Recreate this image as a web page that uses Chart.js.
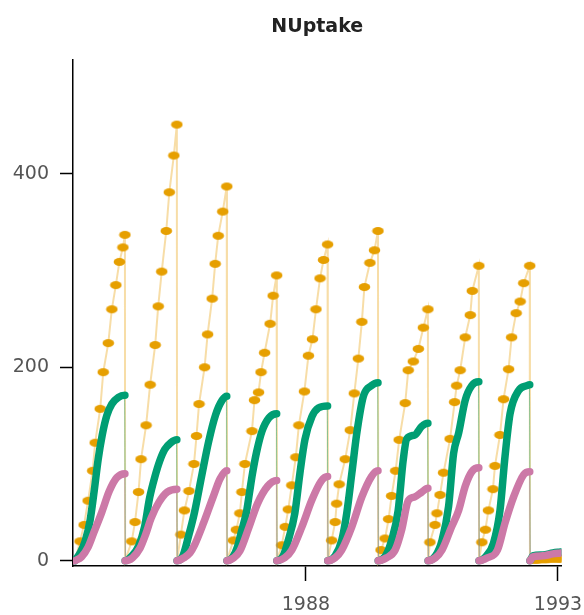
<!DOCTYPE html>
<html>
<head>
<meta charset="utf-8">
<title>NUptake</title>
<script src="https://cdn.jsdelivr.net/npm/chart.js@4.4.1/dist/chart.umd.min.js"></script>
<style>
  html, body { margin: 0; padding: 0; background: #fff; }
  canvas { display: block; }
</style>
</head>
<body>
<canvas id="nUptakeChart" width="584" height="615"></canvas>
<script>
// [decimal year, N uptake], one growing season per line
const orangePoints = [
    [1983.42, 0], [1983.52, 20], [1983.60, 37], [1983.68, 62], [1983.77, 93], [1983.82, 122], [1983.92, 157], [1983.98, 195], [1984.08, 225], [1984.15, 260], [1984.23, 285], [1984.30, 309], [1984.37, 324], [1984.41, 337], [1984.414, 0],
    [1984.545, 20], [1984.61, 40], [1984.68, 71], [1984.73, 105], [1984.83, 140], [1984.91, 182], [1985.01, 223], [1985.07, 263], [1985.14, 299], [1985.23, 341], [1985.29, 381], [1985.38, 419], [1985.44, 451], [1985.444, 0],
    [1985.52, 27], [1985.59, 52], [1985.68, 72], [1985.78, 100], [1985.83, 129], [1985.88, 162], [1985.99, 200], [1986.05, 234], [1986.14, 271], [1986.20, 307], [1986.26, 336], [1986.35, 361], [1986.43, 387], [1986.434, 0],
    [1986.56, 21], [1986.62, 32], [1986.69, 49], [1986.73, 71], [1986.79, 100], [1986.93, 134], [1986.98, 166], [1987.06, 174], [1987.11, 195], [1987.18, 215], [1987.29, 245], [1987.35, 274], [1987.42, 295], [1987.424, 0],
    [1987.52, 16], [1987.59, 35], [1987.65, 53], [1987.72, 78], [1987.80, 107], [1987.86, 140], [1987.97, 175], [1988.05, 212], [1988.13, 229], [1988.20, 260], [1988.28, 292], [1988.35, 311], [1988.43, 327], [1988.434, 0],
    [1988.51, 21], [1988.58, 40], [1988.61, 59], [1988.66, 79], [1988.78, 105], [1988.88, 135], [1988.96, 173], [1989.04, 209], [1989.11, 247], [1989.16, 283], [1989.27, 308], [1989.36, 321], [1989.43, 341], [1989.434, 0],
    [1989.49, 11], [1989.57, 23], [1989.64, 43], [1989.70, 67], [1989.78, 93], [1989.85, 125], [1989.97, 163], [1990.03, 197], [1990.13, 206], [1990.23, 219], [1990.33, 241], [1990.42, 260], [1990.424, 0],
    [1990.46, 19], [1990.56, 37], [1990.60, 49], [1990.66, 68], [1990.73, 91], [1990.86, 126], [1990.95, 164], [1990.99, 181], [1991.06, 197], [1991.16, 231], [1991.26, 254], [1991.30, 279], [1991.43, 305], [1991.434, 0],
    [1991.49, 19], [1991.56, 32], [1991.62, 52], [1991.71, 74], [1991.75, 98], [1991.85, 130], [1991.92, 167], [1992.02, 198], [1992.08, 231], [1992.17, 256], [1992.25, 268], [1992.32, 287], [1992.44, 305], [1992.444, 0],
    [1992.50, 1], [1992.55, 1], [1992.60, 1], [1992.66, 1.5], [1992.72, 1.5], [1992.78, 1.5], [1992.84, 2], [1992.90, 2], [1992.96, 2], [1993.02, 2], [1993.06, 2]
];

const greenPoints = [
    [1983.42, 0], [1983.52, 8], [1983.62, 20], [1983.72, 42], [1983.80, 72], [1983.88, 105], [1983.96, 130], [1984.05, 150], [1984.15, 162], [1984.28, 169], [1984.41, 171], [1984.414, 0],
    [1984.55, 5], [1984.68, 15], [1984.80, 35], [1984.90, 65], [1985.00, 86], [1985.10, 103], [1985.20, 115], [1985.32, 122], [1985.44, 125], [1985.444, 0],
    [1985.56, 5], [1985.67, 25], [1985.79, 50], [1985.93, 87], [1986.07, 123], [1986.21, 151], [1986.34, 166], [1986.43, 170], [1986.434, 0],
    [1986.55, 4], [1986.64, 14], [1986.72, 30], [1986.82, 50], [1986.88, 70], [1986.94, 90], [1987.02, 112], [1987.13, 134], [1987.27, 148], [1987.42, 152], [1987.424, 0],
    [1987.55, 5], [1987.65, 21], [1987.78, 49], [1987.88, 90], [1987.98, 125], [1988.12, 149], [1988.25, 158], [1988.43, 160], [1988.434, 0],
    [1988.58, 5], [1988.71, 21], [1988.81, 49], [1988.91, 90], [1989.01, 132], [1989.14, 170], [1989.30, 181], [1989.43, 184], [1989.434, 0],
    [1989.58, 5], [1989.70, 21], [1989.83, 52], [1989.93, 104], [1990.00, 126], [1990.16, 130], [1990.30, 139], [1990.42, 142], [1990.424, 0],
    [1990.57, 5], [1990.70, 21], [1990.83, 56], [1990.93, 111], [1991.03, 132], [1991.16, 166], [1991.29, 181], [1991.43, 185], [1991.434, 0],
    [1991.58, 5], [1991.72, 18], [1991.85, 52], [1991.95, 108], [1992.05, 152], [1992.22, 176], [1992.38, 181], [1992.44, 182], [1992.444, 0],
    [1992.50, 5], [1992.70, 6], [1992.90, 8], [1993.05, 9]
];

const pinkPoints = [
    [1983.42, 0], [1983.55, 4], [1983.68, 14], [1983.80, 30], [1983.95, 50], [1984.10, 72], [1984.25, 86], [1984.41, 90], [1984.414, 0],
    [1984.56, 3], [1984.71, 13], [1984.82, 27], [1984.93, 44], [1985.08, 60], [1985.25, 71], [1985.44, 74], [1985.444, 0],
    [1985.58, 3], [1985.70, 8], [1985.79, 16], [1985.97, 39], [1986.16, 66], [1986.30, 85], [1986.43, 93], [1986.434, 0],
    [1986.57, 3], [1986.69, 10], [1986.86, 33], [1987.04, 59], [1987.24, 77], [1987.42, 83], [1987.424, 0],
    [1987.58, 3], [1987.72, 11], [1987.92, 35], [1988.12, 63], [1988.30, 82], [1988.43, 87], [1988.434, 0],
    [1988.58, 3], [1988.71, 11], [1988.91, 35], [1989.11, 66], [1989.30, 87], [1989.43, 93], [1989.434, 0],
    [1989.60, 3], [1989.77, 11], [1989.90, 32], [1990.03, 62], [1990.16, 66], [1990.30, 71], [1990.42, 75], [1990.424, 0],
    [1990.57, 3], [1990.70, 11], [1990.89, 35], [1991.03, 52], [1991.16, 77], [1991.29, 92], [1991.43, 96], [1991.434, 0],
    [1991.60, 3], [1991.80, 11], [1991.95, 39], [1992.12, 66], [1992.32, 89], [1992.44, 92], [1992.444, 0],
    [1992.50, 4], [1992.70, 5], [1992.90, 7], [1993.05, 8]
];

const X_TICKS = [1988, 1993];
const Y_TICKS = [0, 200, 400];

const COLORS = {
    orange: '#E69F00',
    green: '#009E73',
    pink: '#CC79A7',
    axis: '#000000',
    label: '#555555',
    title: '#222222'
};

// small flat ellipse used as the marker of the orange series
function ellipseDot(color) {
    const c = document.createElement('canvas');
    c.width = 13;
    c.height = 10;
    const g = c.getContext('2d');
    g.fillStyle = color;
    g.beginPath();
    g.ellipse(6.5, 5, 5.8, 4, 0, 0, Math.PI * 2);
    g.fill();
    return c;
}

// harvest drops are drawn as hairlines
const isDrop = c => c.p1.parsed.y < c.p0.parsed.y - 20;

const tickFont = { family: "'DejaVu Sans', sans-serif", size: 19 };

const ctx = document.getElementById('nUptakeChart').getContext('2d');
new Chart(ctx, {
    type: 'line',
    data: {
        datasets: [
            {
                label: 'orange',
                data: orangePoints,
                order: 3,
                borderColor: 'rgba(238, 180, 60, 0.45)',
                borderWidth: 2,
                tension: 0,
                pointStyle: ellipseDot(COLORS.orange),
                pointRadius: c => (c.raw && c.raw[1] === 0 ? 0 : 4),
                pointHoverRadius: 0
            },
            {
                label: 'green',
                data: greenPoints,
                order: 2,
                borderColor: COLORS.green,
                borderWidth: 7.5,
                borderCapStyle: 'round',
                borderJoinStyle: 'round',
                cubicInterpolationMode: 'monotone',
                pointRadius: 0,
                segment: {
                    borderWidth: c => (isDrop(c) ? 1 : undefined),
                    borderColor: c => (isDrop(c) ? 'rgba(0, 158, 115, 0.45)' : undefined)
                }
            },
            {
                label: 'pink',
                data: pinkPoints,
                order: 1,
                borderColor: COLORS.pink,
                borderWidth: 7.5,
                borderCapStyle: 'round',
                borderJoinStyle: 'round',
                cubicInterpolationMode: 'monotone',
                pointRadius: 0,
                segment: {
                    borderWidth: c => (isDrop(c) ? 1 : undefined),
                    borderColor: c => (isDrop(c) ? 'rgba(204, 121, 167, 0.45)' : undefined)
                }
            }
        ]
    },
    options: {
        responsive: false,
        animation: false,
        layout: { padding: { left: 0, right: 22.5, top: 0, bottom: 0 } },
        plugins: {
            legend: { display: false },
            tooltip: { enabled: false },
            title: {
                display: true,
                text: 'NUptake',
                fullSize: false,
                color: COLORS.title,
                font: { family: "'DejaVu Sans', sans-serif", size: 19, weight: 'bold' },
                padding: { top: 16, bottom: 21 }
            }
        },
        scales: {
            x: {
                type: 'linear',
                min: 1983.38,
                max: 1993.07,
                afterBuildTicks: s => { s.ticks = X_TICKS.map(v => ({ value: v })); },
                afterFit: s => { s.height = 49; s.paddingLeft = 0; s.paddingRight = 0; },
                grid: { drawOnChartArea: false, tickLength: 15, tickColor: COLORS.axis, tickWidth: 1.5 },
                border: { color: COLORS.axis, width: 1.5 },
                ticks: {
                    padding: 13,
                    color: COLORS.label,
                    font: tickFont,
                    maxRotation: 0,
                    callback: v => String(v)
                }
            },
            y: {
                min: -5.5,
                max: 518,
                afterBuildTicks: s => { s.ticks = Y_TICKS.map(v => ({ value: v })); },
                afterFit: s => { s.width = 73; s.paddingTop = 0; s.paddingBottom = 0; },
                grid: { drawOnChartArea: false, tickLength: 13, tickColor: COLORS.axis, tickWidth: 1.5 },
                border: { color: COLORS.axis, width: 1.5 },
                ticks: {
                    padding: 11,
                    color: COLORS.label,
                    font: tickFont,
                    callback: v => String(v)
                }
            }
        }
    }
});
</script>
</body>
</html>
